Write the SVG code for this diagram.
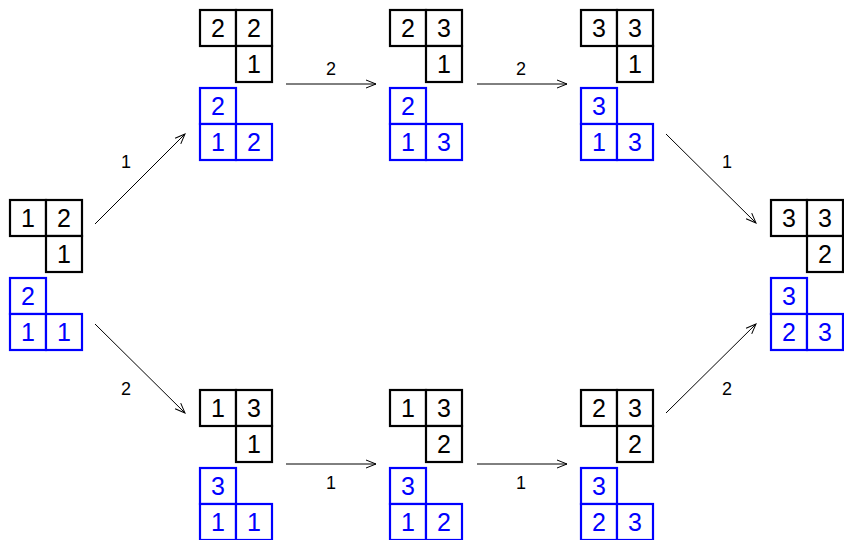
<svg xmlns="http://www.w3.org/2000/svg" width="844" height="540" viewBox="0 0 844 540">
<style>
.k rect{fill:#fff;stroke:#000;stroke-width:2.2}
.b rect{fill:#fff;stroke:#0000ff;stroke-width:2.2}
.k text{fill:#000}
.b text{fill:#0000ff}
text{font-family:"Liberation Sans",Arial,sans-serif;text-anchor:middle}
.lbl{fill:#000}
.e{stroke:#000;stroke-width:1;fill:none;marker-end:url(#ah)}
</style>
<defs>
<marker id="ah" markerUnits="userSpaceOnUse" markerWidth="14" markerHeight="12" viewBox="-11 -6 12 12" refX="0" refY="0" orient="auto">
<path d="M-10,-4 L0,0 L-10,4" fill="none" stroke="#000" stroke-width="1"/>
</marker>
</defs>
<g font-size="25">
<g id="n0" transform="translate(10,200)">
<g class="k"><rect x="0" y="0" width="36" height="36"/><rect x="36" y="0" width="36" height="36"/><rect x="36" y="36" width="36" height="36"/><text x="18" y="27">1</text><text x="54" y="27">2</text><text x="54" y="63">1</text></g>
<g class="b"><rect x="0" y="78" width="36" height="36"/><rect x="0" y="114" width="36" height="36"/><rect x="36" y="114" width="36" height="36"/><text x="18" y="105">2</text><text x="18" y="141">1</text><text x="54" y="141">1</text></g>
</g>
<g id="t1" transform="translate(200,10)">
<g class="k"><rect x="0" y="0" width="36" height="36"/><rect x="36" y="0" width="36" height="36"/><rect x="36" y="36" width="36" height="36"/><text x="18" y="27">2</text><text x="54" y="27">2</text><text x="54" y="63">1</text></g>
<g class="b"><rect x="0" y="78" width="36" height="36"/><rect x="0" y="114" width="36" height="36"/><rect x="36" y="114" width="36" height="36"/><text x="18" y="105">2</text><text x="18" y="141">1</text><text x="54" y="141">2</text></g>
</g>
<g id="t2" transform="translate(390,10)">
<g class="k"><rect x="0" y="0" width="36" height="36"/><rect x="36" y="0" width="36" height="36"/><rect x="36" y="36" width="36" height="36"/><text x="18" y="27">2</text><text x="54" y="27">3</text><text x="54" y="63">1</text></g>
<g class="b"><rect x="0" y="78" width="36" height="36"/><rect x="0" y="114" width="36" height="36"/><rect x="36" y="114" width="36" height="36"/><text x="18" y="105">2</text><text x="18" y="141">1</text><text x="54" y="141">3</text></g>
</g>
<g id="t3" transform="translate(581,10)">
<g class="k"><rect x="0" y="0" width="36" height="36"/><rect x="36" y="0" width="36" height="36"/><rect x="36" y="36" width="36" height="36"/><text x="18" y="27">3</text><text x="54" y="27">3</text><text x="54" y="63">1</text></g>
<g class="b"><rect x="0" y="78" width="36" height="36"/><rect x="0" y="114" width="36" height="36"/><rect x="36" y="114" width="36" height="36"/><text x="18" y="105">3</text><text x="18" y="141">1</text><text x="54" y="141">3</text></g>
</g>
<g id="r" transform="translate(771,200)">
<g class="k"><rect x="0" y="0" width="36" height="36"/><rect x="36" y="0" width="36" height="36"/><rect x="36" y="36" width="36" height="36"/><text x="18" y="27">3</text><text x="54" y="27">3</text><text x="54" y="63">2</text></g>
<g class="b"><rect x="0" y="78" width="36" height="36"/><rect x="0" y="114" width="36" height="36"/><rect x="36" y="114" width="36" height="36"/><text x="18" y="105">3</text><text x="18" y="141">2</text><text x="54" y="141">3</text></g>
</g>
<g id="b1" transform="translate(200,390)">
<g class="k"><rect x="0" y="0" width="36" height="36"/><rect x="36" y="0" width="36" height="36"/><rect x="36" y="36" width="36" height="36"/><text x="18" y="27">1</text><text x="54" y="27">3</text><text x="54" y="63">1</text></g>
<g class="b"><rect x="0" y="78" width="36" height="36"/><rect x="0" y="114" width="36" height="36"/><rect x="36" y="114" width="36" height="36"/><text x="18" y="105">3</text><text x="18" y="141">1</text><text x="54" y="141">1</text></g>
</g>
<g id="b2" transform="translate(390,390)">
<g class="k"><rect x="0" y="0" width="36" height="36"/><rect x="36" y="0" width="36" height="36"/><rect x="36" y="36" width="36" height="36"/><text x="18" y="27">1</text><text x="54" y="27">3</text><text x="54" y="63">2</text></g>
<g class="b"><rect x="0" y="78" width="36" height="36"/><rect x="0" y="114" width="36" height="36"/><rect x="36" y="114" width="36" height="36"/><text x="18" y="105">3</text><text x="18" y="141">1</text><text x="54" y="141">2</text></g>
</g>
<g id="b3" transform="translate(581,390)">
<g class="k"><rect x="0" y="0" width="36" height="36"/><rect x="36" y="0" width="36" height="36"/><rect x="36" y="36" width="36" height="36"/><text x="18" y="27">2</text><text x="54" y="27">3</text><text x="54" y="63">2</text></g>
<g class="b"><rect x="0" y="78" width="36" height="36"/><rect x="0" y="114" width="36" height="36"/><rect x="36" y="114" width="36" height="36"/><text x="18" y="105">3</text><text x="18" y="141">2</text><text x="54" y="141">3</text></g>
</g>
</g>
<g id="edges" font-size="18">
<line class="e" x1="95" y1="224" x2="185" y2="134"/>
<line class="e" x1="95" y1="324" x2="185" y2="413"/>
<line class="e" x1="286" y1="84" x2="376" y2="84"/>
<line class="e" x1="477" y1="84" x2="567" y2="84"/>
<line class="e" x1="286" y1="464" x2="376" y2="464"/>
<line class="e" x1="477" y1="464" x2="567" y2="464"/>
<line class="e" x1="666" y1="134" x2="756" y2="223"/>
<line class="e" x1="666" y1="413" x2="756" y2="324"/>
<text class="lbl" x="126" y="168">1</text>
<text class="lbl" x="126" y="395">2</text>
<text class="lbl" x="331" y="75">2</text>
<text class="lbl" x="521" y="75">2</text>
<text class="lbl" x="331" y="489">1</text>
<text class="lbl" x="521" y="489">1</text>
<text class="lbl" x="727" y="168">1</text>
<text class="lbl" x="727" y="395">2</text>
</g>
</svg>
